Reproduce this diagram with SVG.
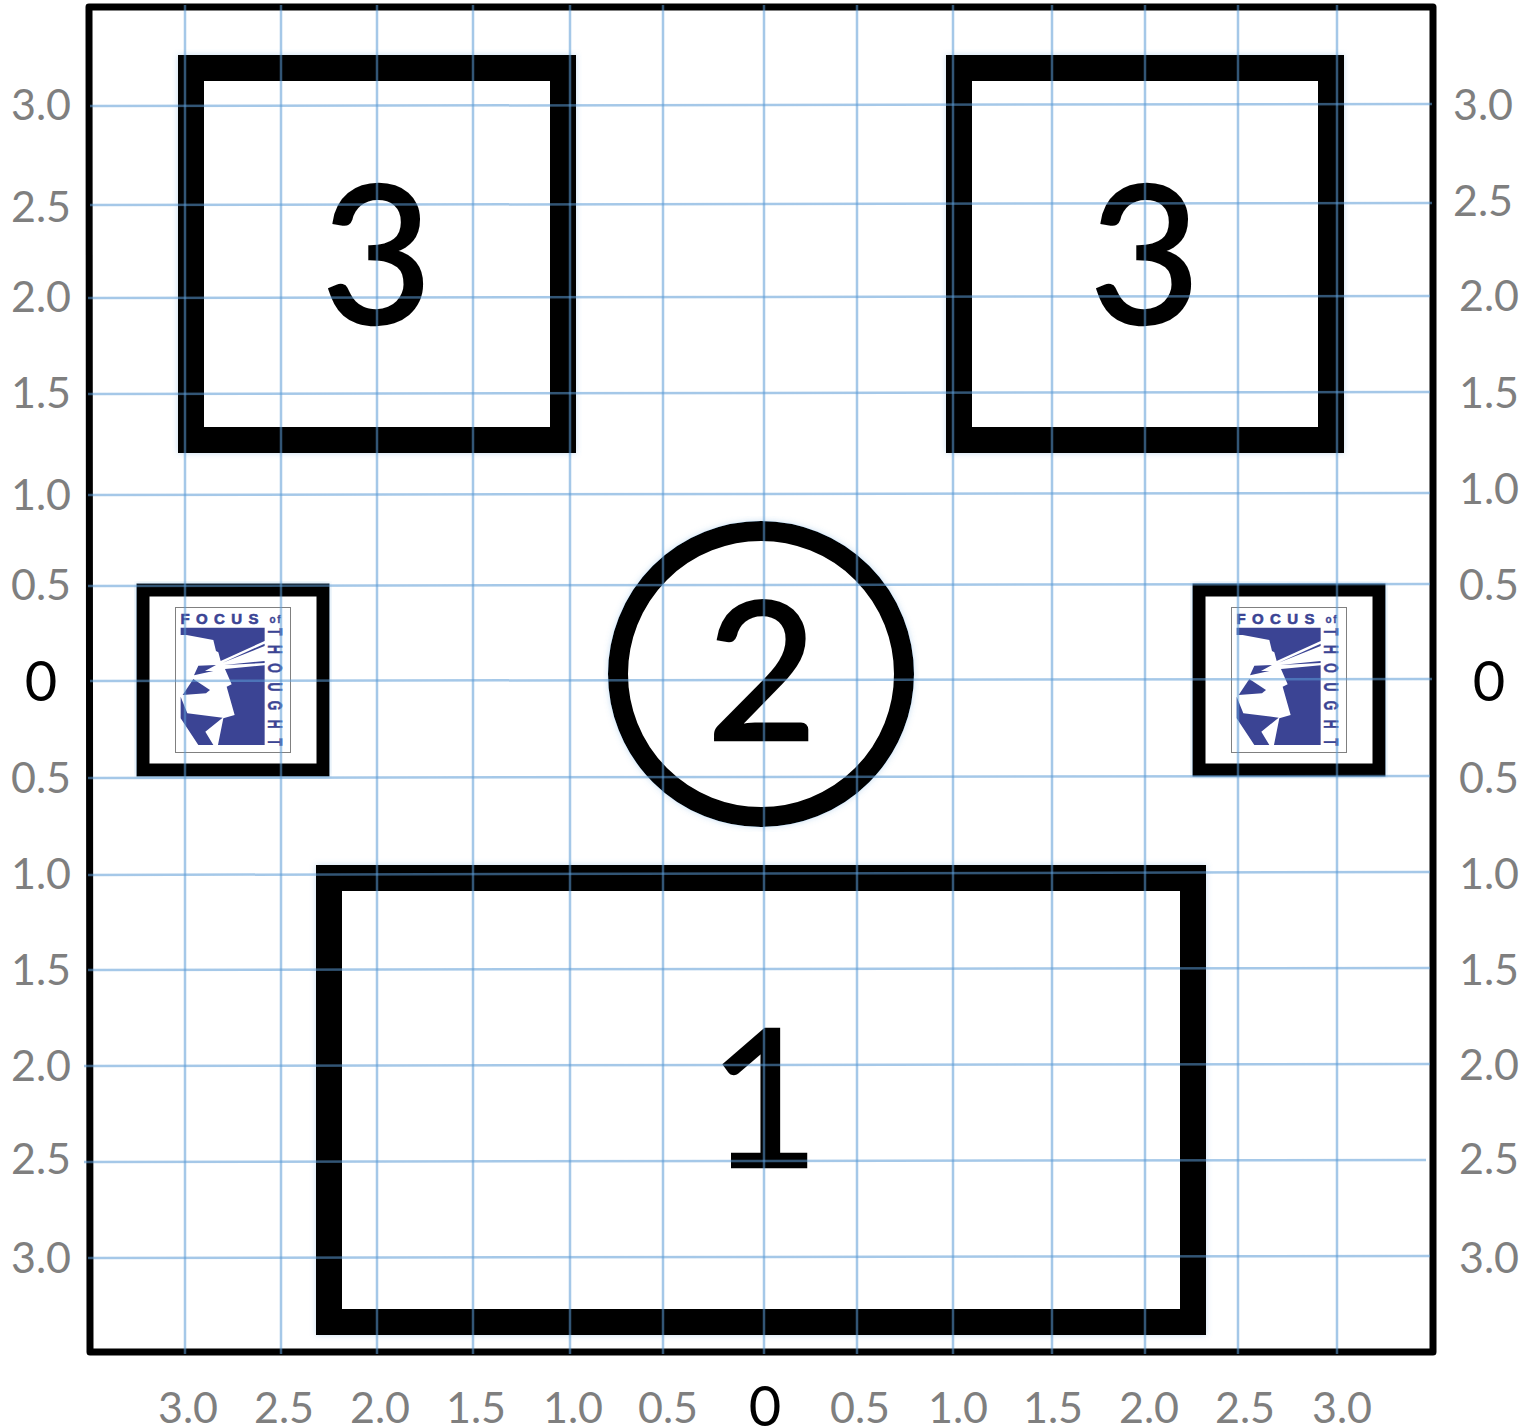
<svg xmlns="http://www.w3.org/2000/svg" width="1530" height="1428" viewBox="0 0 1530 1428">
<style>
.g{font:43px Lato,"Liberation Sans",sans-serif;fill:#7f7f7f;text-anchor:middle}
.z{font:56px Lato,"Liberation Sans",sans-serif;fill:#000;text-anchor:middle}
.big{font:192px Lato,"Liberation Sans",sans-serif;fill:#000;stroke:#000;stroke-width:2.500;text-anchor:middle}
.box{fill:#fff;stroke:#000;stroke-width:26;filter:url(#glow)}
.small{fill:#fff;stroke:#000;stroke-width:13;filter:url(#glow)}
.grid line{stroke:#5b9bd5;stroke-width:2.5;stroke-opacity:.55}
.logo{fill:#3b4494}
.lt{font:bold 15px "Liberation Sans",Arial,sans-serif;fill:#3b4494;stroke:#3b4494;stroke-width:.6}
.lo{font-size:10px;stroke-width:.3}
.lv{font-size:20px;stroke-width:.5}
.lb{fill:#fff;stroke:#808080;stroke-width:1}
</style>
<defs>
<filter id="glow" x="-5%" y="-5%" width="110%" height="110%"><feDropShadow dx="0" dy="0" stdDeviation="3" flood-color="#5b9bd5" flood-opacity=".35"/></filter>
<g id="face" class="logo" transform="scale(.3333)">
<polygon points="152,158 404,158 404,198 272,258 265,232 258,228 250,195 170,180 152,180"/>
<polygon points="278,263 404,206 404,213"/>
<polygon points="283,270 404,258 404,264"/>
<polygon points="285,282 404,271 404,510 264,510 280,430 314,420 290,335 305,328"/>
<polygon points="205,272 258,270 225,288 250,288 192,301"/>
<polygon points="190,312 240,345 228,355 158,360"/>
<polygon points="152,365 172,415 278,428 226,470 250,510 205,510 152,430"/>
</g>
</defs>
<rect width="1530" height="1428" fill="#fff"/>
<g id="frame"><path d="M89 7H1433V1352H90Z" fill="#fff" stroke="#000" stroke-width="7" stroke-linejoin="round"/></g>
<g id="node-3-left"><rect class="box" x="191" y="68" width="372" height="372"/><text class="big" x="377" y="323">3</text></g>
<g id="node-3-right"><rect class="box" x="959" y="68" width="372" height="372"/><text class="big" x="1145" y="323">3</text></g>
<g id="node-2"><circle cx="761" cy="674" r="143" fill="#fff" stroke="#000" stroke-width="20" filter="url(#glow)"/><text class="big" x="762" y="740">2</text></g>
<g id="node-1"><rect class="box" x="329" y="878" width="864" height="444"/><text class="big" x="764" y="1167">1</text></g>
<g id="logo-left"><rect class="small" x="143" y="590" width="180" height="180"/><rect class="lb" x="175.500" y="607.500" width="115" height="145"/>
<use href="#face" x="130" y="575"/>
<text class="lt" x="180.500" y="624" textLength="78">FOCUS</text>
<text class="lt lo" x="269.500" y="623" textLength="11">of</text>
<text class="lt lv" transform="translate(268 628) rotate(90) scale(.62 1)" textLength="190" x="0" y="0">THOUGHT</text></g>
<g id="logo-right"><rect class="small" x="1199" y="590" width="180" height="180"/><rect class="lb" x="1231.500" y="607.500" width="115" height="145"/>
<use href="#face" x="1186" y="575"/>
<text class="lt" x="1236.500" y="624" textLength="78">FOCUS</text>
<text class="lt lo" x="1325.500" y="623" textLength="11">of</text>
<text class="lt lv" transform="translate(1324 628) rotate(90) scale(.62 1)" textLength="190" x="0" y="0">THOUGHT</text></g>
<g id="grid" class="grid">
<line x1="185" y1="5" x2="185" y2="1354"/><line x1="281" y1="5" x2="281" y2="1354"/><line x1="377" y1="5" x2="377" y2="1354"/><line x1="473" y1="5" x2="473" y2="1354"/><line x1="570" y1="5" x2="570" y2="1354"/><line x1="663" y1="5" x2="663" y2="1354"/><line x1="764" y1="5" x2="764" y2="1354"/><line x1="857" y1="5" x2="857" y2="1354"/><line x1="953" y1="5" x2="953" y2="1354"/><line x1="1052" y1="5" x2="1052" y2="1354"/><line x1="1145" y1="5" x2="1145" y2="1354"/><line x1="1238" y1="5" x2="1238" y2="1354"/><line x1="1337" y1="5" x2="1337" y2="1354"/>
<line x1="90" y1="106" x2="1432" y2="104"/><line x1="90" y1="205" x2="1432" y2="203"/><line x1="88" y1="298" x2="1430" y2="296"/><line x1="88" y1="394" x2="1430" y2="392"/><line x1="88" y1="495" x2="1430" y2="493"/><line x1="88" y1="586" x2="1430" y2="584"/><line x1="90" y1="681" x2="1432" y2="679"/><line x1="88" y1="778" x2="1430" y2="776"/><line x1="88" y1="875" x2="1430" y2="872"/><line x1="88" y1="970" x2="1430" y2="968"/><line x1="84" y1="1066" x2="1430" y2="1064"/><line x1="84" y1="1162" x2="1426" y2="1160"/><line x1="88" y1="1258" x2="1430" y2="1256"/>
</g>
<g id="labels-left">
<text class="g" x="41" y="120">3.0</text><text class="g" x="41" y="222">2.5</text><text class="g" x="41" y="312">2.0</text><text class="g" x="41" y="408">1.5</text><text class="g" x="41" y="510">1.0</text><text class="g" x="41" y="600">0.5</text><text class="z" x="41" y="701">0</text><text class="g" x="41" y="793">0.5</text><text class="g" x="41" y="889">1.0</text><text class="g" x="41" y="985">1.5</text><text class="g" x="41" y="1081">2.0</text><text class="g" x="41" y="1174">2.5</text><text class="g" x="41" y="1273">3.0</text>
</g>
<g id="labels-right">
<text class="g" x="1483" y="120">3.0</text><text class="g" x="1483" y="216">2.5</text><text class="g" x="1489" y="311">2.0</text><text class="g" x="1489" y="408">1.5</text><text class="g" x="1489" y="504">1.0</text><text class="g" x="1489" y="600">0.5</text><text class="z" x="1489" y="701">0</text><text class="g" x="1489" y="793">0.5</text><text class="g" x="1489" y="889">1.0</text><text class="g" x="1489" y="985">1.5</text><text class="g" x="1489" y="1080">2.0</text><text class="g" x="1489" y="1174">2.5</text><text class="g" x="1489" y="1273">3.0</text>
</g>
<g id="labels-bottom">
<text class="g" x="188" y="1423">3.0</text><text class="g" x="284" y="1423">2.5</text><text class="g" x="380" y="1423">2.0</text><text class="g" x="476" y="1423">1.5</text><text class="g" x="573" y="1423">1.0</text><text class="g" x="668" y="1423">0.5</text><text class="z" x="765" y="1426">0</text><text class="g" x="860" y="1423">0.5</text><text class="g" x="958" y="1423">1.0</text><text class="g" x="1053" y="1423">1.5</text><text class="g" x="1149" y="1423">2.0</text><text class="g" x="1245" y="1423">2.5</text><text class="g" x="1342" y="1423">3.0</text>
</g>
</svg>
